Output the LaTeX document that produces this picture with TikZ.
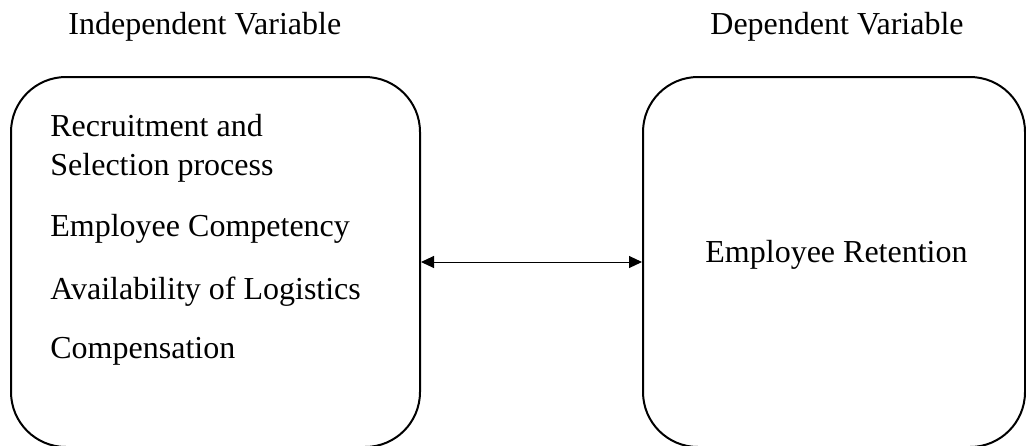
\documentclass[tikz,border=0pt]{standalone}
\usepackage{fontspec}
\setmainfont{Liberation Serif}
\usetikzlibrary{arrows.meta}
\begin{document}
\begin{tikzpicture}[x=0.5pt,y=-0.5pt,
  vbox/.style={draw,line width=1pt,rounded corners=27.5pt,minimum width=#1,minimum height=185pt,inner sep=0pt},
  lbl/.style={anchor=base west,inner sep=0pt,font=\fontsize{16}{19}\selectfont},
  conn/.style={line width=0.5pt,{Triangle[length=6.5pt,width=6pt]}-{Triangle[length=6.5pt,width=6pt]}}]
\useasboundingbox (0,0) rectangle (1026,445);
\clip (0,0) rectangle (1026,445);
\node[vbox=204.5pt] (lbox) at (215.5,262) {};
\node[vbox=191pt] (rbox) at (834,262) {};
\node[lbl] (iv) at (68,34) {Independent Variable};
\node[lbl] (dv) at (710,34) {Dependent Variable};
\node[lbl] (t1) at (50,136) {Recruitment and};
\node[lbl] (t2) at (50,175) {Selection process};
\node[lbl] (t3) at (50,236) {Employee Competency};
\node[lbl] (t4) at (50,299) {Availability of Logistics};
\node[lbl] (t5) at (50,358) {Compensation};
\node[lbl] (er) at (705,262) {Employee Retention};
\draw[conn] (lbox.east) -- (rbox.west);
\end{tikzpicture}
\end{document}
